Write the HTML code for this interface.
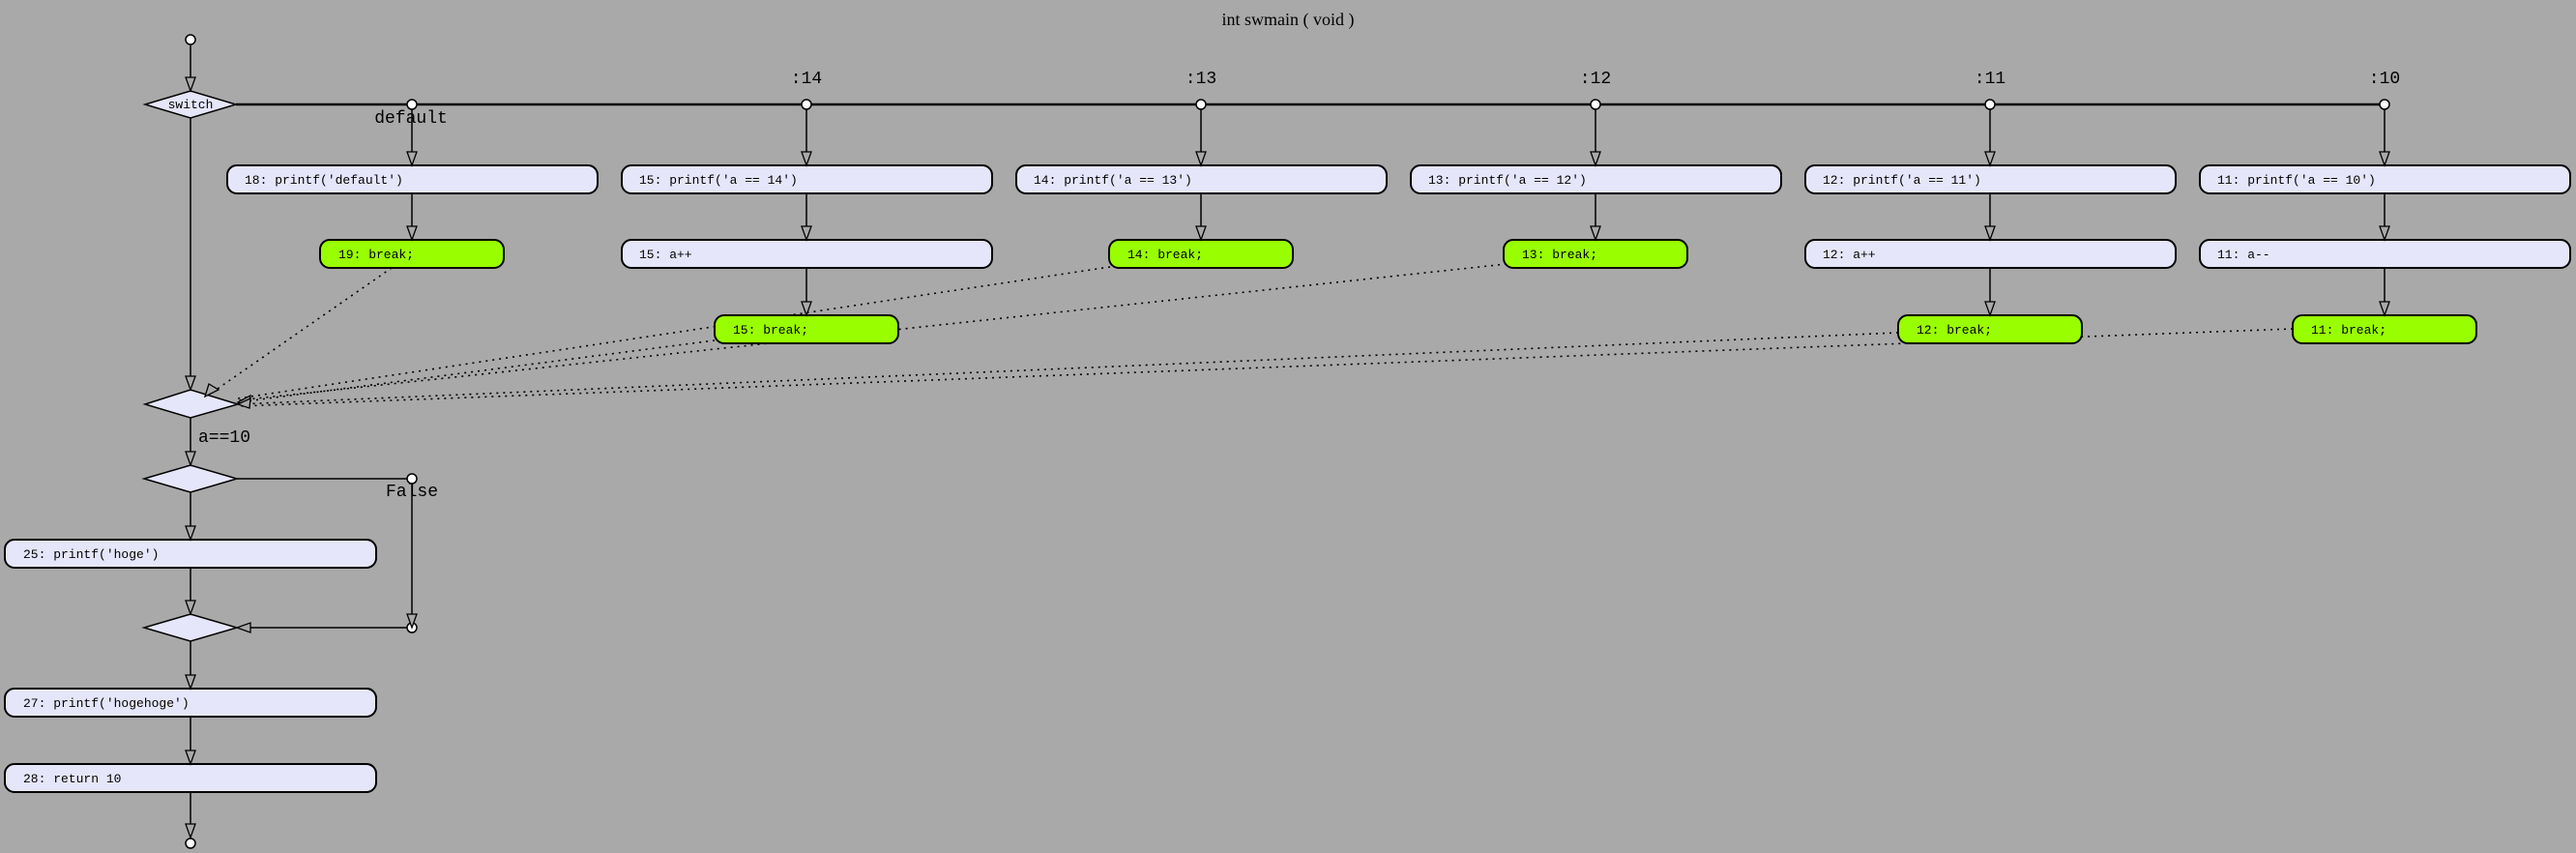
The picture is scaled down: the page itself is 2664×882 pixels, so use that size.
<!DOCTYPE html>
<html><head><meta charset="utf-8"><style>
html,body{margin:0;padding:0;background:#a9a9a9;}
svg{display:block;}
.m{font-family:"Liberation Mono","DejaVu Sans Mono",monospace;font-size:13px;fill:#000;}
.l{font-family:"Liberation Mono","DejaVu Sans Mono",monospace;font-size:18px;fill:#000;}
</style></head><body>
<svg width="2664" height="882" viewBox="0 0 2664 882" xmlns="http://www.w3.org/2000/svg">
<rect width="2664" height="882" fill="#a9a9a9"/>
<text x="1332" y="26" text-anchor="middle" font-family="Liberation Serif,serif" font-size="18">int swmain ( void )</text>
<g stroke="#000" stroke-width="1.5" fill="none">
<!-- start -->
<line x1="197" y1="47" x2="197" y2="94"/>
<line x1="197" y1="122" x2="197" y2="403"/>
<line x1="244" y1="108" x2="2466" y2="108" stroke-width="2.5"/>
<!-- columns -->
<line x1="426" y1="108" x2="426" y2="248"/>
<line x1="834" y1="108" x2="834" y2="326"/>
<line x1="1242" y1="108" x2="1242" y2="248"/>
<line x1="1650" y1="108" x2="1650" y2="248"/>
<line x1="2058" y1="108" x2="2058" y2="326"/>
<line x1="2466" y1="108" x2="2466" y2="326"/>
<!-- lower -->
<line x1="197" y1="432" x2="197" y2="481"/>
<line x1="197" y1="509" x2="197" y2="558"/>
<line x1="245" y1="495" x2="426" y2="495"/>
<line x1="426" y1="495" x2="426" y2="649"/>
<line x1="245" y1="649" x2="426" y2="649"/>
<line x1="197" y1="587" x2="197" y2="635"/>
<line x1="197" y1="663" x2="197" y2="712"/>
<line x1="197" y1="742" x2="197" y2="790"/>
<line x1="197" y1="819" x2="197" y2="866"/>
</g>
<!-- dotted -->
<g stroke="#000" stroke-width="1.6" stroke-dasharray="2 5" fill="none">
<line x1="405" y1="277" x2="222" y2="404"/>
<line x1="739" y1="352" x2="246" y2="416"/>
<line x1="1148" y1="276" x2="246" y2="412"/>
<line x1="1558" y1="273" x2="246" y2="414"/>
<line x1="1963" y1="344" x2="246" y2="418"/>
<line x1="2371" y1="340" x2="246" y2="420"/>
</g>
<!-- diamonds -->
<g stroke="#000" stroke-width="1.5" fill="#e6e6fa">
<polygon points="150,108 197,94 244,108 197,122"/>
<polygon points="150,418 197,403 246,418 197,432"/>
<polygon points="149,495 197,481 245,495 197,509"/>
<polygon points="149,649 197,635 245,649 197,663"/>
</g>
<text x="197" y="112" text-anchor="middle" class="m" font-size="12">switch</text>
<!-- circles -->
<g stroke="#000" stroke-width="1.5" fill="#fff">
<circle cx="197" cy="41" r="5"/>
<circle cx="426" cy="108" r="5"/><circle cx="834" cy="108" r="5"/><circle cx="1242" cy="108" r="5"/>
<circle cx="1650" cy="108" r="5"/><circle cx="2058" cy="108" r="5"/><circle cx="2466" cy="108" r="5"/>
<circle cx="426" cy="495" r="5"/><circle cx="426" cy="649" r="5"/>
<circle cx="197" cy="872" r="5"/>
</g>
<!-- boxes -->
<g stroke="#000" stroke-width="2" fill="#e6e6fa">
<rect x="235" y="171" width="383" height="29" rx="10"/>
<rect x="643" y="171" width="383" height="29" rx="10"/>
<rect x="1051" y="171" width="383" height="29" rx="10"/>
<rect x="1459" y="171" width="383" height="29" rx="10"/>
<rect x="1867" y="171" width="383" height="29" rx="10"/>
<rect x="2275" y="171" width="383" height="29" rx="10"/>
<rect x="643" y="248" width="383" height="29" rx="10"/>
<rect x="1867" y="248" width="383" height="29" rx="10"/>
<rect x="2275" y="248" width="383" height="29" rx="10"/>
<rect x="5" y="558" width="384" height="29" rx="10"/>
<rect x="5" y="712" width="384" height="29" rx="10"/>
<rect x="5" y="790" width="384" height="29" rx="10"/>
</g>
<g stroke="#000" stroke-width="2" fill="#99ff00">
<rect x="331" y="248" width="190" height="29" rx="10"/>
<rect x="1147" y="248" width="190" height="29" rx="10"/>
<rect x="1555" y="248" width="190" height="29" rx="10"/>
<rect x="739" y="326" width="190" height="29" rx="10"/>
<rect x="1963" y="326" width="190" height="29" rx="10"/>
<rect x="2371" y="326" width="190" height="29" rx="10"/>
</g>
<!-- arrowheads -->
<g stroke="#000" stroke-width="1.3" fill="#a9a9a9">
<polygon points="192,80 202,80 197,94"/>
<polygon points="192,389 202,389 197,403"/>
<polygon points="421,157 431,157 426,171"/><polygon points="829,157 839,157 834,171"/>
<polygon points="1237,157 1247,157 1242,171"/><polygon points="1645,157 1655,157 1650,171"/>
<polygon points="2053,157 2063,157 2058,171"/><polygon points="2461,157 2471,157 2466,171"/>
<polygon points="421,234 431,234 426,248"/><polygon points="829,234 839,234 834,248"/>
<polygon points="1237,234 1247,234 1242,248"/><polygon points="1645,234 1655,234 1650,248"/>
<polygon points="2053,234 2063,234 2058,248"/><polygon points="2461,234 2471,234 2466,248"/>
<polygon points="829,312 839,312 834,326"/><polygon points="2053,312 2063,312 2058,326"/>
<polygon points="2461,312 2471,312 2466,326"/>
<polygon points="192,467 202,467 197,481"/>
<polygon points="192,544 202,544 197,558"/>
<polygon points="421,635 431,635 426,649"/>
<polygon points="259,644 259,654 245,649"/>
<polygon points="192,621 202,621 197,635"/>
<polygon points="192,698 202,698 197,712"/>
<polygon points="192,776 202,776 197,790"/>
<polygon points="192,852 202,852 197,866"/>
<polygon points="216,397 226,403 212,410"/>
<polygon points="246,416 259,409 257,420"/>
<polygon points="246,418 259,412 258,422"/>
</g>
<!-- box texts -->
<g class="m">
<text x="253" y="190">18: printf('default')</text>
<text x="661" y="190">15: printf('a == 14')</text>
<text x="1069" y="190">14: printf('a == 13')</text>
<text x="1477" y="190">13: printf('a == 12')</text>
<text x="1885" y="190">12: printf('a == 11')</text>
<text x="2293" y="190">11: printf('a == 10')</text>
<text x="661" y="267">15: a++</text>
<text x="1885" y="267">12: a++</text>
<text x="2293" y="267">11: a--</text>
<text x="350" y="267">19: break;</text>
<text x="1166" y="267">14: break;</text>
<text x="1574" y="267">13: break;</text>
<text x="758" y="345">15: break;</text>
<text x="1982" y="345">12: break;</text>
<text x="2390" y="345">11: break;</text>
<text x="24" y="577">25: printf('hoge')</text>
<text x="24" y="731">27: printf('hogehoge')</text>
<text x="24" y="809">28: return 10</text>
</g>
<g class="l">
<text x="425" y="127" text-anchor="middle">default</text>
<text x="834" y="86" text-anchor="middle">:14</text>
<text x="1242" y="86" text-anchor="middle">:13</text>
<text x="1650" y="86" text-anchor="middle">:12</text>
<text x="2058" y="86" text-anchor="middle">:11</text>
<text x="2466" y="86" text-anchor="middle">:10</text>
<text x="205" y="457">a==10</text>
<text x="426" y="513" text-anchor="middle">False</text>
</g>
</svg>
</body></html>
